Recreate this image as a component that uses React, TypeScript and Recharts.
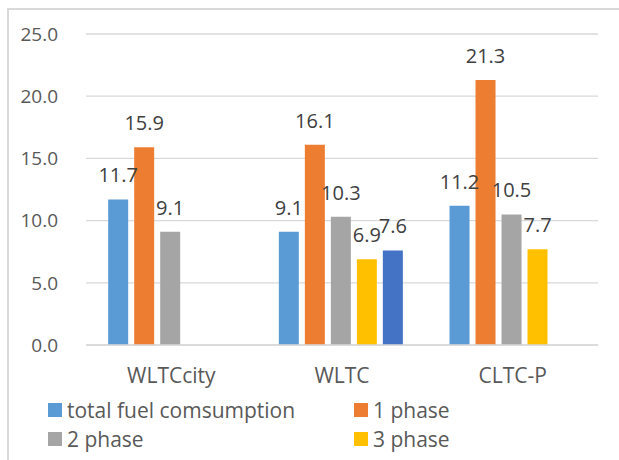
import { Bar, BarChart, CartesianGrid, LabelList, Legend, XAxis, YAxis } from "recharts";

const categories = ["WLTCcity", "WLTC", "CLTC-P"];
const totalFuel = [11.7, 9.1, 11.2];
const phase1 = [15.9, 16.1, 21.3];
const phase2 = [9.1, 10.3, 10.5];
const phase3 = [null, 6.9, 7.7];
const phase4 = [null, 7.6, null];
const yTicks = [0, 5, 10, 15, 20, 25];

const series = [
  { key: "total", name: "total fuel comsumption", color: "#5B9BD5", values: totalFuel },
  { key: "p1", name: "1 phase", color: "#ED7D31", values: phase1 },
  { key: "p2", name: "2 phase", color: "#A5A5A5", values: phase2 },
  { key: "p3", name: "3 phase", color: "#FFC000", values: phase3 },
  { key: "p4", name: "4 phase", color: "#4472C4", values: phase4 },
];

// the legend's third row (4 phase) falls below the visible area in the original
const legendShown = series.slice(0, 4);

const data = categories.map((name, i) => {
  const row: Record<string, string | number | null> = { name };
  series.forEach((s) => {
    row[s.key] = s.values[i];
  });
  return row;
});

const font = "'Open Sans', sans-serif";

function LegendBox() {
  return (
    <div
      style={{
        display: "grid",
        gridTemplateColumns: "306px 200px",
        gridAutoRows: "29px",
        paddingLeft: 48,
        fontFamily: font,
        fontSize: 21,
        color: "#595959",
      }}
    >
      {legendShown.map((s) => (
        <div key={s.key} style={{ display: "flex", alignItems: "center" }}>
          <span style={{ width: 14, height: 14, background: s.color, marginRight: 5, display: "inline-block" }} />
          <span style={{ whiteSpace: "nowrap" }}>{s.name}</span>
        </div>
      ))}
    </div>
  );
}

export default function App() {
  return (
    <div
      style={{
        position: "absolute",
        left: 0,
        top: 0,
        width: 619,
        height: 460,
        overflow: "hidden",
        background: "#fff",
      }}
    >
      <div
        style={{
          position: "absolute",
          left: 7,
          top: 8,
          width: 700,
          height: 600,
          borderLeft: "2px solid #d9d9d9",
          borderTop: "2px solid #d9d9d9",
        }}
      />
      <BarChart
        width={619}
        height={460}
        data={data}
        margin={{ top: 34, right: 21, bottom: 75, left: 0 }}
        barCategoryGap="13%"
        barGap={6}
      >
        <CartesianGrid vertical={false} stroke="#d9d9d9" strokeWidth={1.3} />
        <XAxis
          dataKey="name"
          height={40}
          tickLine={false}
          tickSize={0}
          tickMargin={23}
          axisLine={{ stroke: "#d9d9d9", strokeWidth: 1.3 }}
          tick={{ fill: "#595959", fontSize: 21, fontFamily: font }}
        />
        <YAxis
          width={86}
          domain={[0, 25]}
          ticks={yTicks}
          tickLine={false}
          axisLine={false}
          tickSize={0}
          tickMargin={28}
          tickFormatter={(v: number) => v.toFixed(1)}
          tick={{ fill: "#595959", fontSize: 19, fontFamily: font }}
        />
        <Legend
          verticalAlign="middle"
          align="center"
          layout="horizontal"
          wrapperStyle={{ position: "absolute", left: 0, top: 395, width: 619 }}
          content={() => <LegendBox />}
        />
        {series.map((s) => (
          <Bar key={s.key} dataKey={s.key} name={s.name} fill={s.color} isAnimationActive={false}>
            <LabelList
              dataKey={s.key}
              position="top"
              offset={17}
              fill="#404040"
              fontSize={20}
              fontFamily={font}
              formatter={(v: unknown) => (v == null ? "" : Number(v).toFixed(1))}
            />
          </Bar>
        ))}
      </BarChart>
    </div>
  );
}
